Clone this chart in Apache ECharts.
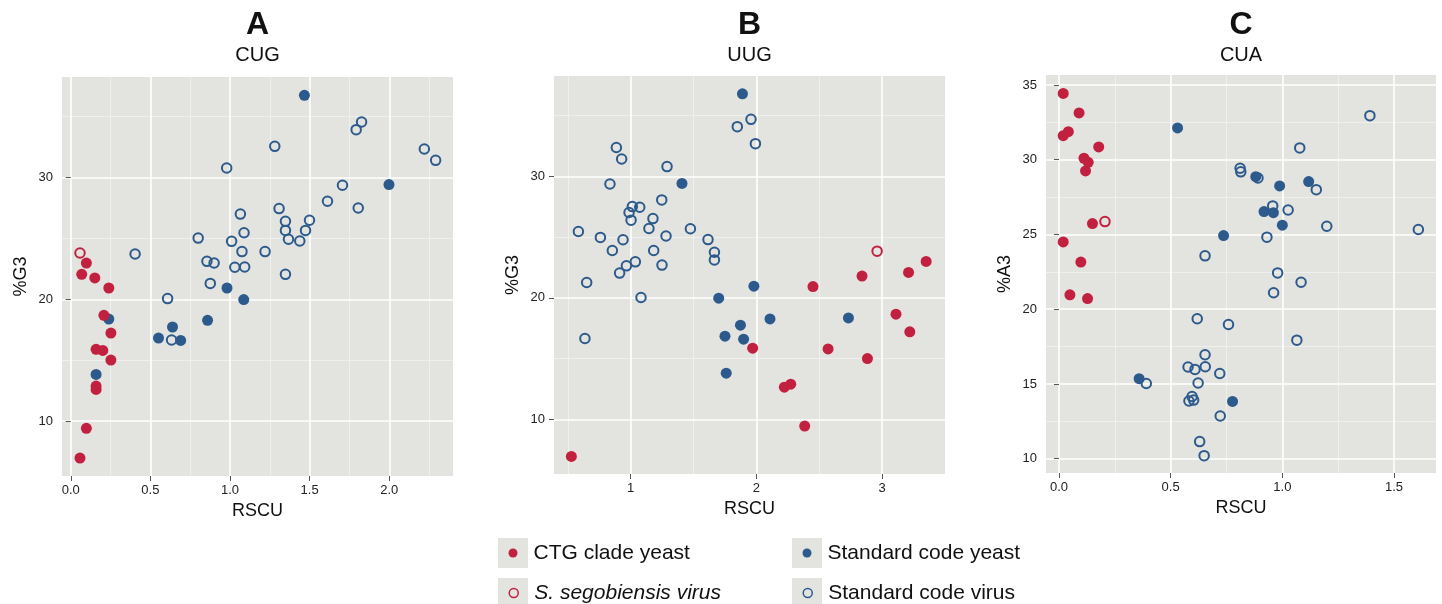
<!DOCTYPE html>
<html><head><meta charset="utf-8">
<script src="https://cdn.jsdelivr.net/npm/echarts@6/dist/echarts.min.js"></script>
<style>html,body{margin:0;padding:0;background:#fff}#c{width:1442px;height:604px}</style>
</head><body><div id="c"></div>
<script>
// ---------- data (RSCU, %G3 / %A3) ----------
const cugCtg = [[0.098,22.98],[0.069,22.05],[0.151,21.76],[0.239,20.93],[0.208,18.69],[0.252,17.23],[0.159,15.9],[0.201,15.81],[0.252,15.02],[0.159,12.88],[0.159,12.61],[0.098,9.41],[0.058,6.97]];
const cugSseg = [[0.058,23.8]];
const cugStdYeast = [[0.239,18.38],[0.639,17.73],[0.859,18.28],[0.551,16.82],[0.69,16.63],[0.159,13.84],[0.981,20.93],[1.086,19.98],[1.467,36.75],[1.998,29.42]];
const cugStdVirus = [[0.404,23.72],[0.979,30.78],[0.80,25.03],[1.01,24.76],[0.855,23.12],[0.90,22.98],[1.03,22.63],[1.092,22.65],[0.876,21.31],[0.608,20.06],[0.633,16.66],[1.826,34.56],[1.792,33.93],[1.281,32.56],[2.22,32.34],[2.291,31.41],[1.706,29.36],[1.612,28.05],[1.805,27.5],[1.308,27.45],[1.065,27.0],[1.348,26.4],[1.348,25.66],[1.499,26.49],[1.474,25.66],[1.367,24.93],[1.438,24.79],[1.088,25.47],[1.075,23.92],[1.22,23.92],[1.348,22.05]];

const uugCtg = [[3.35,23.0],[3.21,22.1],[2.84,21.8],[2.45,20.93],[3.11,18.66],[3.22,17.21],[1.97,15.86],[2.57,15.8],[2.883,15.0],[2.273,12.9],[2.222,12.65],[2.384,9.45],[0.528,6.95]];
const uugSseg = [[2.96,23.85]];
const uugStdYeast = [[1.408,29.42],[1.889,36.8],[1.70,19.98],[1.75,16.85],[1.76,13.8],[1.98,20.96],[2.108,18.27],[2.732,18.35],[1.873,17.75],[1.898,16.6]];
const uugStdVirus = [[0.886,32.38],[0.928,31.44],[1.289,30.81],[0.835,29.38],[1.247,28.07],[1.013,27.52],[1.072,27.46],[0.987,27.03],[1.003,26.4],[1.177,26.53],[1.145,25.71],[1.475,25.69],[0.584,25.47],[0.759,24.98],[0.939,24.79],[1.281,25.1],[1.615,24.8],[0.854,23.9],[1.183,23.9],[1.666,23.76],[1.666,23.13],[1.037,22.97],[0.966,22.64],[1.249,22.7],[0.912,22.04],[0.65,21.27],[1.082,20.03],[0.636,16.66],[1.957,34.7],[1.848,34.1],[1.992,32.7]];

const cuaCtg = [[0.019,34.44],[0.09,33.13],[0.019,31.61],[0.042,31.88],[0.178,30.86],[0.112,30.1],[0.131,29.83],[0.119,29.25],[0.15,25.73],[0.019,24.5],[0.098,23.15],[0.049,20.96],[0.128,20.71]];
const cuaSseg = [[0.206,25.86]];
const cuaStdYeast = [[0.531,32.13],[0.359,15.35],[0.881,28.87],[0.988,28.25],[1.118,28.54],[0.918,26.53],[0.96,26.46],[1.0,25.62],[0.737,24.93],[0.777,13.83]];
const cuaStdVirus = [[0.654,23.57],[0.619,19.36],[0.654,16.95],[0.578,16.13],[0.609,15.97],[0.655,16.15],[0.623,15.06],[0.391,15.03],[0.596,14.16],[0.582,13.86],[0.603,13.92],[0.63,11.14],[0.65,10.2],[1.392,32.95],[1.078,30.79],[0.811,29.43],[0.814,29.19],[0.891,28.78],[1.152,28.0],[0.957,26.91],[1.026,26.64],[1.199,25.55],[1.609,25.33],[0.931,24.82],[0.979,22.43],[1.084,21.8],[0.961,21.1],[0.759,18.98],[1.065,17.93],[0.72,15.7],[0.722,12.85]];

// ---------- ticks ----------
const cugXTicks = [0, 0.5, 1, 1.5, 2];
const cugXMinor = [0.25, 0.75, 1.25, 1.75, 2.25];
const g3YTicks = [10, 20, 30];
const g3YMinor = [15, 25, 35];
const uugXTicks = [1, 2, 3];
const uugXMinor = [0.5, 1.5, 2.5];
const cuaXTicks = [0, 0.5, 1, 1.5];
const cuaXMinor = [0.25, 0.75, 1.25];
const cuaYTicks = [10, 15, 20, 25, 30, 35];
const cuaYMinor = [12.5, 17.5, 22.5, 27.5, 32.5];

const seriesNames = ['CTG clade yeast', 'S. segobiensis virus', 'Standard code yeast', 'Standard code virus'];

// ---------- styling ----------
const FONT = "'Liberation Sans', Arial, Helvetica, sans-serif";
const RED = '#C2203F', BLUE = '#2C5A8C', BG = '#E3E3DF';

const panels = [
  {letter:'A', codon:'CUG', yName:'%G3', grid:{left:62, top:77, width:391, height:399},
   xMin:-0.055, xMax:2.40, yMin:5.5, yMax:38.25, xTicks:cugXTicks, xMinor:cugXMinor, yTicks:g3YTicks, yMinor:g3YMinor,
   xFmt:v=>v.toFixed(1), groups:[cugCtg, cugSseg, cugStdYeast, cugStdVirus]},
  {letter:'B', codon:'UUG', yName:'%G3', grid:{left:554, top:76, width:391, height:398},
   xMin:0.39, xMax:3.50, yMin:5.5, yMax:38.27, xTicks:uugXTicks, xMinor:uugXMinor, yTicks:g3YTicks, yMinor:g3YMinor,
   xFmt:v=>String(Math.round(v)), groups:[uugCtg, uugSseg, uugStdYeast, uugStdVirus]},
  {letter:'C', codon:'CUA', yName:'%A3', grid:{left:1046, top:75, width:390, height:398},
   xMin:-0.058, xMax:1.688, yMin:9.04, yMax:35.67, xTicks:cuaXTicks, xMinor:cuaXMinor, yTicks:cuaYTicks, yMinor:cuaYMinor,
   xFmt:v=>v.toFixed(1), groups:[cuaCtg, cuaSseg, cuaStdYeast, cuaStdVirus]}
];

const groupStyle = [
  {symbolSize:11, itemStyle:{color:RED, borderWidth:0, opacity:1}},
  {symbolSize:9.5, itemStyle:{color:'rgba(0,0,0,0)', borderColor:RED, borderWidth:2, opacity:1}},
  {symbolSize:11, itemStyle:{color:BLUE, borderWidth:0, opacity:1}},
  {symbolSize:9.5, itemStyle:{color:'rgba(0,0,0,0)', borderColor:BLUE, borderWidth:2, opacity:1}}
];

const grid = [], xAxis = [], yAxis = [], series = [], graphic = [];
const tickStyle = {show:true, length:5, lineStyle:{color:'#555', width:1}};
const labelStyle = {fontSize:13, color:'#222', fontFamily:FONT};
const nameStyle = {fontSize:18, color:'#111', fontFamily:FONT};
const majorSplit = {show:true, lineStyle:{color:'#ffffff', width:1.6}};
const minorSplit = {show:true, lineStyle:{color:'#F3F3F1', width:0.8}};

panels.forEach((p, i) => {
  grid.push(Object.assign({show:true, backgroundColor:BG, borderWidth:0, containLabel:false}, p.grid));
  xAxis.push({type:'value', gridIndex:i, min:p.xMin, max:p.xMax, position:'bottom',
    name:'RSCU', nameLocation:'middle', nameGap:24, nameTextStyle:nameStyle,
    axisLine:{show:false}, axisTick:Object.assign({customValues:p.xTicks}, tickStyle),
    axisLabel:Object.assign({customValues:p.xTicks, margin:8, formatter:p.xFmt}, labelStyle),
    splitLine:majorSplit, z:3});
  xAxis.push({type:'value', gridIndex:i, min:p.xMin, max:p.xMax, position:'bottom',
    axisLine:{show:false}, axisTick:{show:false, customValues:p.xMinor},
    axisLabel:{show:false, customValues:p.xMinor}, splitLine:minorSplit, z:2});
  yAxis.push({type:'value', gridIndex:i, min:p.yMin, max:p.yMax, position:'left',
    name:p.yName, nameLocation:'middle', nameGap:32, nameTextStyle:nameStyle,
    axisLine:{show:false}, axisTick:Object.assign({customValues:p.yTicks}, tickStyle),
    axisLabel:Object.assign({customValues:p.yTicks, margin:9, formatter:v=>String(Math.round(v))}, labelStyle),
    splitLine:majorSplit, z:3});
  yAxis.push({type:'value', gridIndex:i, min:p.yMin, max:p.yMax, position:'left',
    axisLine:{show:false}, axisTick:{show:false, customValues:p.yMinor},
    axisLabel:{show:false, customValues:p.yMinor}, splitLine:minorSplit, z:2});
  // draw order: virus, yeast, sseg, ctg
  [3, 2, 1, 0].forEach(g => {
    series.push(Object.assign({type:'scatter', name:seriesNames[g], xAxisIndex:2*i, yAxisIndex:2*i,
      data:p.groups[g], symbol:'circle', z:5, emphasis:{disabled:true}}, JSON.parse(JSON.stringify(groupStyle[g]))));
  });
  const cx = p.grid.left + p.grid.width / 2;
  graphic.push({type:'text', x:cx, y:25, style:{text:p.letter, align:'center', verticalAlign:'middle',
    font:"bold 32px " + FONT, fill:'#111'}});
  graphic.push({type:'text', x:cx, y:55, style:{text:p.codon, align:'center', verticalAlign:'middle',
    font:"20px " + FONT, fill:'#111'}});
});

// legend key boxes (dot centre x, row centre y)
const legendPos = [
  {name:seriesNames[0], x:513, y:553},
  {name:seriesNames[1], x:513, y:593, italic:true},
  {name:seriesNames[2], x:807, y:553},
  {name:seriesNames[3], x:807, y:593}
];
const legend = legendPos.map(lp => {
  graphic.push({type:'rect', shape:{x:lp.x - 15, y:lp.y - 15, width:30, height:30}, style:{fill:BG}, z:0});
  return {data:[lp.name], left:lp.x - 4.5, top:lp.y - 12, padding:0, itemWidth:9, itemHeight:9, icon:'circle',
    itemStyle:{borderWidth:1.5}, selectedMode:false,
    textStyle:{fontSize:21, color:'#111', fontFamily:FONT, fontStyle: lp.italic ? 'italic' : 'normal',
      lineHeight:24, padding:[0, 0, 0, 11]}};
});

const chart = echarts.init(document.getElementById('c'), null, {renderer:'canvas'});
chart.setOption({animation:false, backgroundColor:'#ffffff', grid, xAxis, yAxis, series, legend, graphic});
</script>
</body></html>
